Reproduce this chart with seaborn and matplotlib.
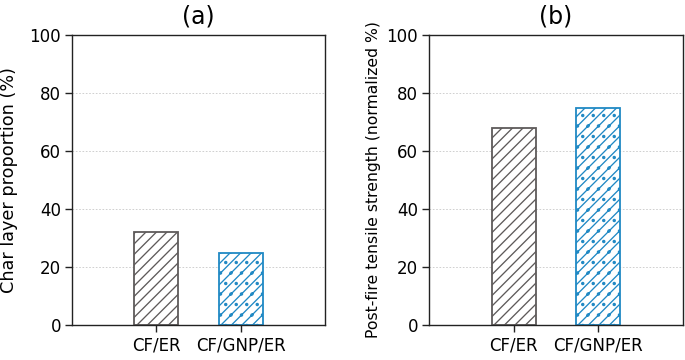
import matplotlib
matplotlib.use("Agg")
import matplotlib.pyplot as plt
import seaborn as sns
import pandas as pd

categories = ["CF/ER", "CF/GNP/ER"]
char_layer = [32, 25]
tensile_strength = [68, 75]
panel_titles = ["(a)", "(b)"]
y_labels = ["Char layer proportion (%)", "Post-fire tensile strength (normalized %)"]
y_ticks = [0, 20, 40, 60, 80, 100]

edge_colors = ["#5e5a5a", "#2089c4"]
hatches = ["//", "//."]

sns.set_theme(style="ticks")
plt.rcParams["font.family"] = ["DejaVu Sans"]
plt.rcParams["hatch.linewidth"] = 1.5
plt.rcParams["text.color"] = "black"
plt.rcParams["axes.labelcolor"] = "black"
plt.rcParams["xtick.color"] = "black"
plt.rcParams["ytick.color"] = "black"

# sizes tuned in points at dpi 100, rendered at dpi 63 (matches hatch density)
DPI = 63
k = 100 / DPI

fig = plt.figure(figsize=(685 / DPI, 360 / DPI), dpi=DPI)
ax_a = fig.add_axes([72 / 685, 35 / 360, 253 / 685, 290 / 360])
ax_b = fig.add_axes([429 / 685, 35 / 360, 254 / 685, 290 / 360])

label_sizes = [12.7, 11.3]
label_pads = [8, 4]

for ax, vals, title, ylab, lsz, lpad in zip([ax_a, ax_b], [char_layer, tensile_strength],
                                           panel_titles, y_labels, label_sizes, label_pads):
    df = pd.DataFrame({"cat": categories, "val": vals})
    sns.barplot(data=df, x="cat", y="val", ax=ax, width=0.52, color="white", saturation=1)
    for patch, ec, h in zip(ax.patches, edge_colors, hatches):
        patch.set_facecolor("white")
        patch.set_edgecolor(ec)
        patch.set_hatch(h)
        patch.set_linewidth(1.3 * k)
    ax.set_xlim(-1, 2)
    ax.set_ylim(0, 100)
    ax.set_yticks(y_ticks)
    ax.yaxis.grid(True, linestyle=(0, (2, 2)), color="#c8c8c8", linewidth=0.6 * k)
    ax.set_axisbelow(True)
    ax.set_xlabel("")
    ax.set_ylabel(ylab, fontsize=lsz * k, labelpad=lpad * k)
    ax.set_title(title, fontsize=17 * k, pad=8 * k)
    ax.tick_params(axis="both", labelsize=12 * k, length=5 * k, width=1.0 * k,
                   color="#222222", pad=3 * k)
    for s in ax.spines.values():
        s.set_linewidth(1.0 * k)
        s.set_color("#222222")
        s.set_visible(True)

fig.savefig("out.png", dpi=DPI)
